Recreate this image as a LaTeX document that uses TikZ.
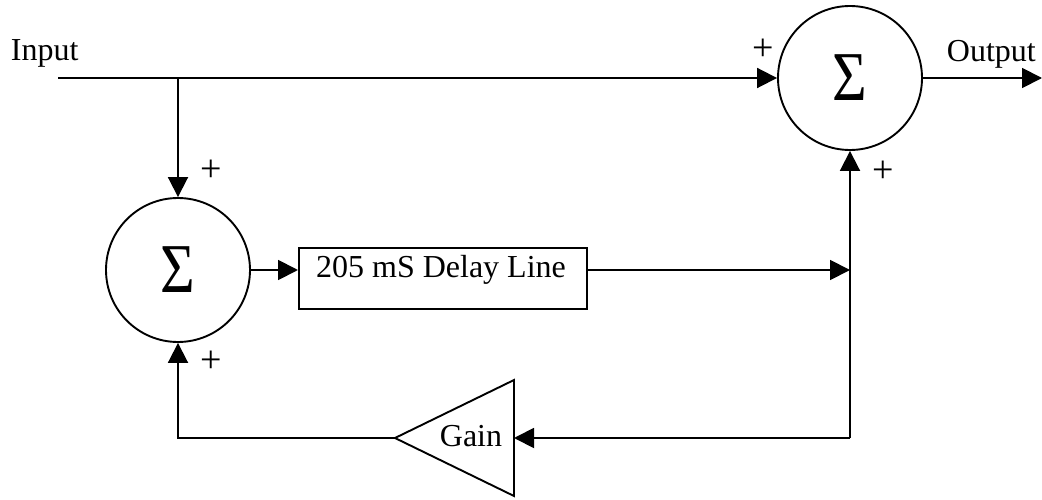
\documentclass[tikz,border=0pt]{standalone}
\usepackage{fontspec}
\setmainfont{Liberation Serif}
\usetikzlibrary{arrows.meta}
\begin{document}
\begin{tikzpicture}[x=1pt,y=-1pt,
  line width=1.9pt,
  arr/.style={-{Triangle[length=20pt,width=20pt]}},
  sumnode/.style={draw,circle,minimum size=144pt,inner sep=0pt,font=\fontsize{70}{74}\selectfont},
  lbl/.style={inner sep=0pt,font=\fontsize{32}{38}\selectfont},
  plus/.style={inner sep=0pt,font=\fontsize{38}{42}\selectfont},
  boxnode/.style={draw,rectangle,inner sep=0pt,minimum width=288pt,minimum height=61pt}]
\useasboundingbox (0,0) rectangle (1042,500);
% nodes
\node[sumnode] (s2) at (850,78) {\scalebox{0.85}[1]{Σ}};
\node[sumnode] (s1) at (178,270) {\scalebox{0.85}[1]{Σ}};
\node[boxnode,anchor=north west] (d) at (298,247) {};
\node[lbl,anchor=base] (dl) at (441,277) {205 mS Delay Line};
\coordinate (in) at (58,78);
\coordinate (br) at (178,78);
\coordinate (out) at (1042,78);
\coordinate (j) at (850,270);
\coordinate (c) at (850,438);
\coordinate (gin) at (514,438);
\coordinate (gout) at (395,438);
\coordinate (gt) at (514,380);
\coordinate (gb) at (514,496);
% gain triangle
\draw (gt) -- (gb) -- (gout) -- cycle;
\node[lbl] (g) at (471,436) {Gain};
% texts
\node[lbl,anchor=base west] (inp) at (10,61) {Input};
\node[lbl,anchor=base west] (outp) at (946,62) {Output};
\node[plus] (p1) at (763,50) {+};
\node[plus] (p2) at (883,172) {+};
\node[plus] (p3) at (211,171) {+};
\node[plus] (p4) at (211,362) {+};
% connectors
\draw[arr] (in) -- (s2.west);
\draw[arr] (br) -- (s1.north);
\draw[arr] (s2.east) -- (out);
\draw[arr] (s1.east) -- (s1.east -| d.west);
\draw[arr] (s1.east -| d.east) -- (j);
\draw[arr] (c) -- (s2.south);
\draw[arr] (c) -- (gin);
\draw[arr] (gout) -| (s1.south);
\end{tikzpicture}
\end{document}
